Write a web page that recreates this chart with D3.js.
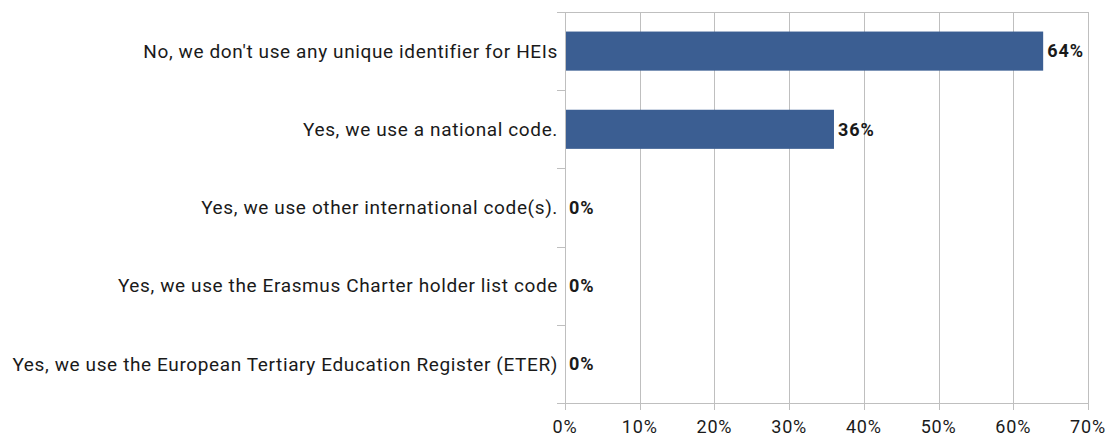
<!DOCTYPE html>
<html><head><meta charset="utf-8">
<script src="https://cdn.jsdelivr.net/npm/d3@7"></script>
<style>body{margin:0;background:#fff}svg{display:block}</style>
</head><body><svg id="c" width="1108" height="436"></svg>
<script>
const categories = [
  "No, we don't use any unique identifier for HEIs",
  "Yes, we use a national code.",
  "Yes, we use other international code(s).",
  "Yes, we use the Erasmus Charter holder list code",
  "Yes, we use the European Tertiary Education Register (ETER)"
];
const values = [64, 36, 0, 0, 0];
const xTicks = [0, 10, 20, 30, 40, 50, 60, 70];

const svg = d3.select("#c");
const m = {left: 565, right: 1088, top: 12, bottom: 403};
const x = d3.scaleLinear().domain([0, 70]).range([m.left, m.right]);
const y = d3.scaleBand().domain(categories).range([m.top, m.bottom]).paddingInner(0.5).paddingOuter(0.25);
const font = "Roboto, 'Noto Sans', sans-serif";
const grid = "#bfbfbf";
const ink = "#1a1a1a";

svg.append("g").selectAll("line").data(xTicks).join("line")
  .attr("x1", d => Math.round(x(d)) + 0.5).attr("x2", d => Math.round(x(d)) + 0.5)
  .attr("y1", m.top).attr("y2", m.bottom + 7)
  .attr("stroke", grid).attr("stroke-width", 1);
svg.append("line").attr("x1", m.left - 8).attr("x2", m.right + 1).attr("y1", m.top + 0.5).attr("y2", m.top + 0.5).attr("stroke", grid);
svg.append("line").attr("x1", m.left - 8).attr("x2", m.right + 1).attr("y1", m.bottom + 0.5).attr("y2", m.bottom + 0.5).attr("stroke", grid);
const bounds = d3.range(categories.length + 1).map(i => m.top + i * (m.bottom - m.top) / categories.length);
svg.append("g").selectAll("line").data(bounds).join("line")
  .attr("x1", m.left - 8).attr("x2", m.left)
  .attr("y1", d => Math.round(d) + 0.5).attr("y2", d => Math.round(d) + 0.5)
  .attr("stroke", grid);

svg.append("g").selectAll("rect").data(values).join("rect")
  .attr("x", m.left + 1).attr("y", (d, i) => y(categories[i]))
  .attr("width", d => Math.max(0, x(d) - m.left - 1)).attr("height", y.bandwidth())
  .attr("fill", "#3b5e92");

svg.append("g").selectAll("text").data(categories).join("text")
  .attr("x", m.left - 7).attr("y", d => y(d) + y.bandwidth() / 2)
  .attr("dy", "0.35em").attr("text-anchor", "end")
  .attr("font-family", font).attr("font-size", 19).attr("letter-spacing", "0.62px").attr("fill", ink)
  .text(d => d);

svg.append("g").selectAll("text").data(values).join("text")
  .attr("x", d => x(d) + 4).attr("y", (d, i) => y(categories[i]) + y.bandwidth() / 2)
  .attr("dy", "0.35em").attr("font-family", font).attr("font-size", 18).attr("font-weight", "bold")
  .attr("letter-spacing", "1px").attr("fill", ink).text(d => d + "%");

svg.append("g").selectAll("text").data(xTicks).join("text")
  .attr("x", d => x(d)).attr("y", 433).attr("text-anchor", "middle")
  .attr("font-family", font).attr("font-size", 18).attr("letter-spacing", "0.8px").attr("fill", ink)
  .text(d => d + "%");
</script></body></html>
